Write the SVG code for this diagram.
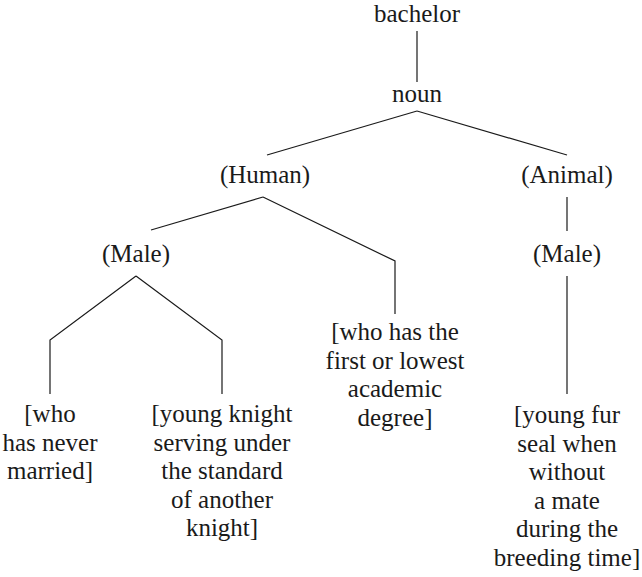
<svg xmlns="http://www.w3.org/2000/svg" width="642" height="577" viewBox="0 0 642 577">
<style>
text{font-size:25px;fill:#1a1a1a;text-anchor:middle}
.c{fill:none;stroke:#1a1a1a;stroke-width:1.2}
</style>
<rect width="642" height="577" fill="#fff"/>
<g id="connectors">
<path class="c" d="M417 31V82"/>
<path class="c" d="M417 111L267 155"/>
<path class="c" d="M417 111L567 155"/>
<path class="c" d="M263 197L151 230"/>
<path class="c" d="M263 197L395 261V314"/>
<path class="c" d="M567 197V231"/>
<path class="c" d="M136 276L50 340V394"/>
<path class="c" d="M136 276L222 340V394"/>
<path class="c" d="M567 276V394"/>
</g>
<g font-family="Liberation Serif, DejaVu Serif, serif">
<g id="bachelor"><text x="417" y="22">bachelor</text></g>
<g id="noun"><text x="417" y="102">noun</text></g>
<g id="human"><text x="265" y="183">(Human)</text></g>
<g id="animal"><text x="567" y="183">(Animal)</text></g>
<g id="male1"><text x="136" y="262">(Male)</text></g>
<g id="male2"><text x="567" y="262">(Male)</text></g>
<g id="degree"><text x="395" y="340">[who has the</text><text x="395" y="368.5">first or lowest</text><text x="395" y="397">academic</text><text x="395" y="425.5">degree]</text></g>
<g id="never"><text x="50" y="422">[who</text><text x="50" y="450.5">has never</text><text x="50" y="479">married]</text></g>
<g id="knight"><text x="222" y="422">[young knight</text><text x="222" y="450.5">serving under</text><text x="222" y="479">the standard</text><text x="222" y="507.5">of another</text><text x="222" y="536">knight]</text></g>
<g id="seal"><text x="567" y="423">[young fur</text><text x="567" y="451.5">seal when</text><text x="567" y="480">without</text><text x="567" y="508.5">a mate</text><text x="567" y="537">during the</text><text x="567" y="565.5">breeding time]</text></g>
</g>
</svg>
